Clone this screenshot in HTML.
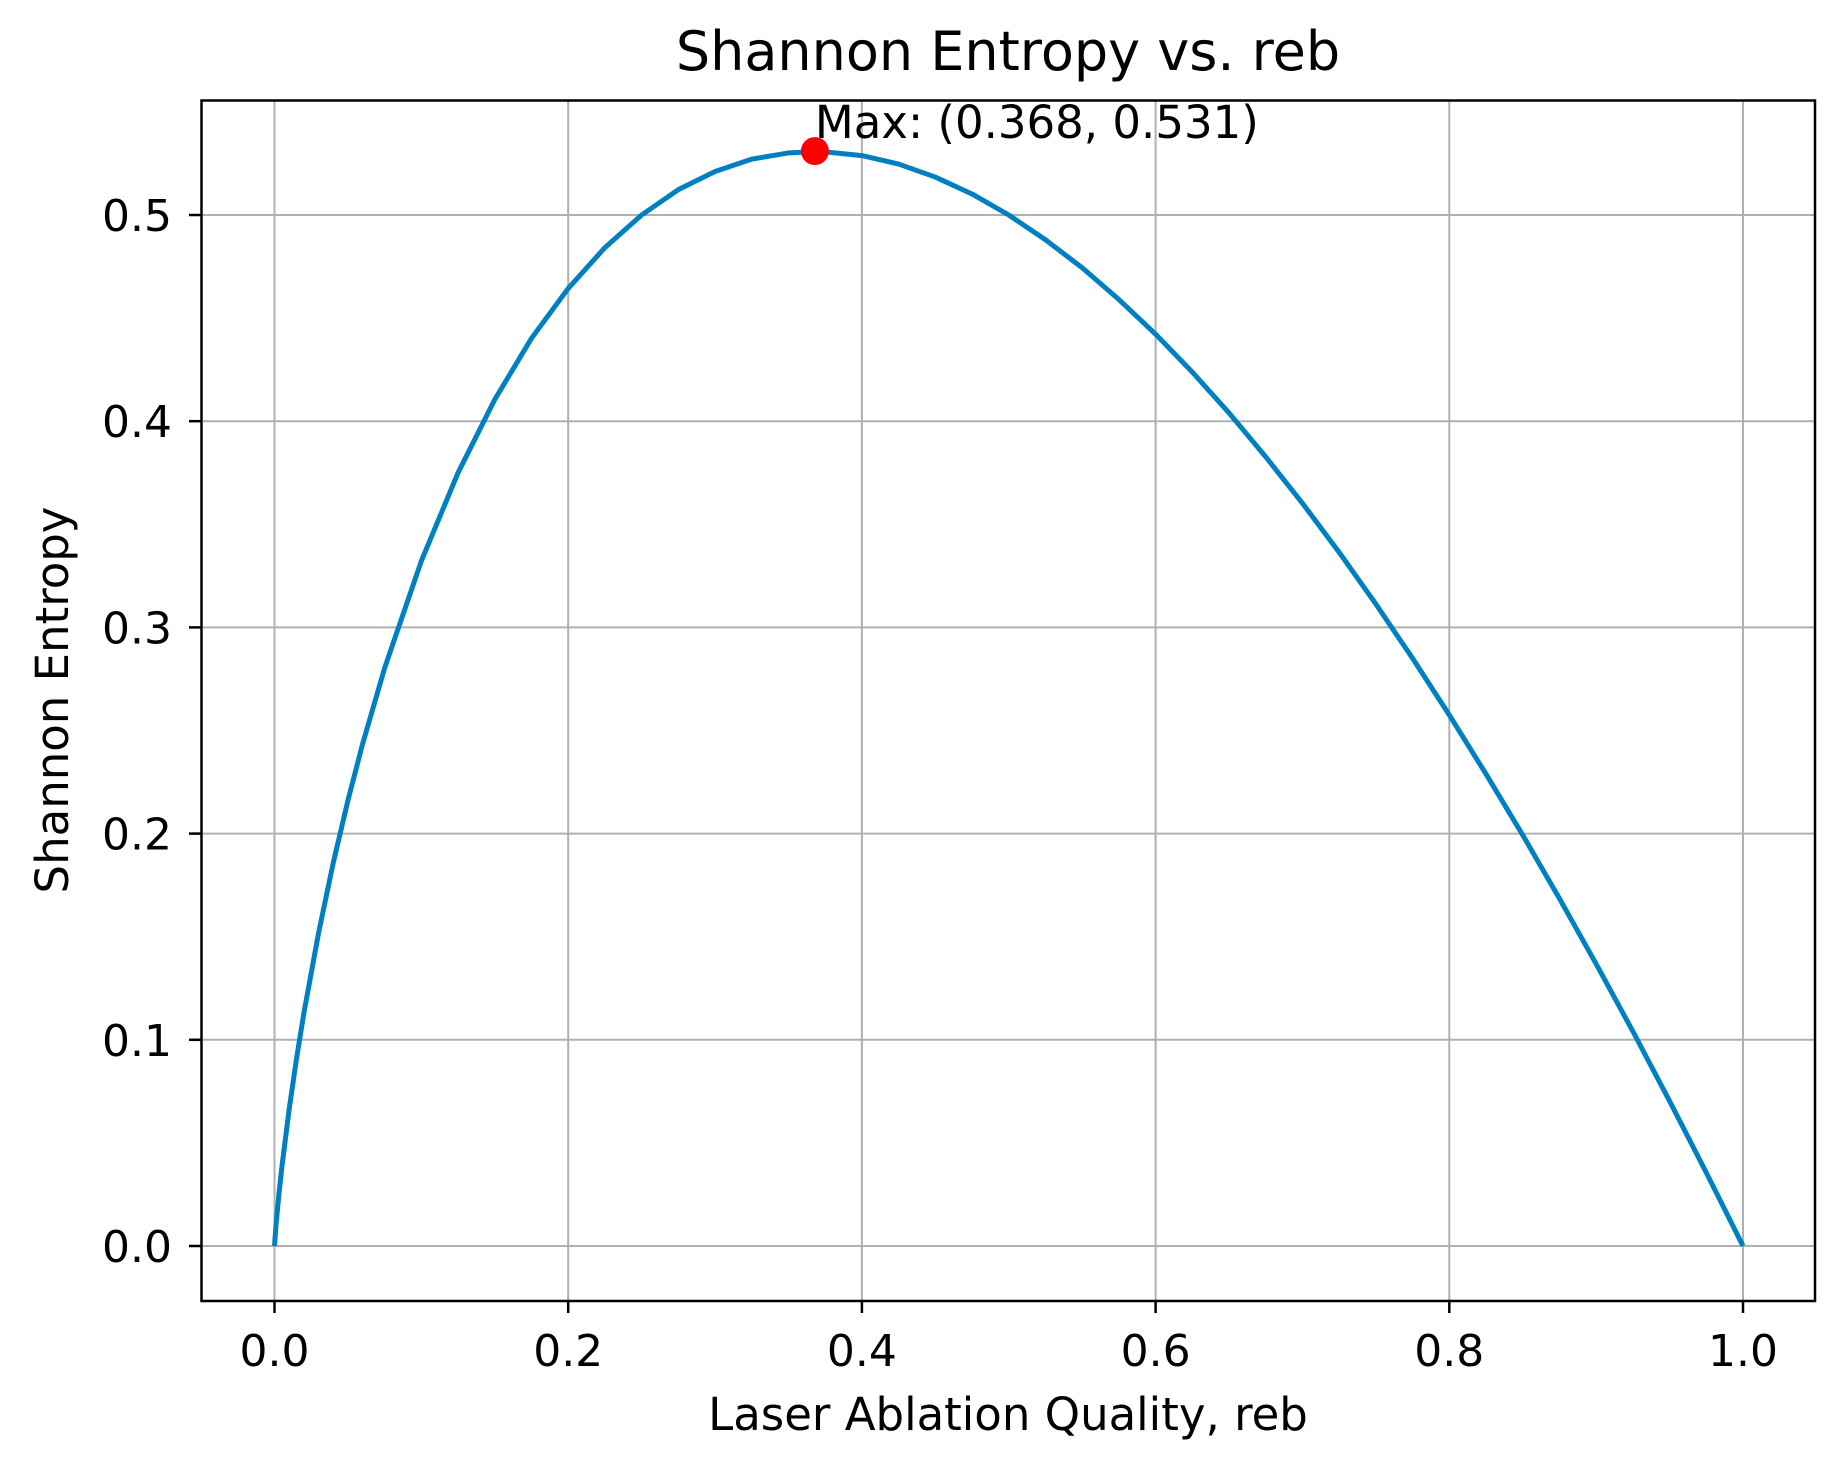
<!DOCTYPE html>
<html><head><meta charset="utf-8"><style>
html,body{margin:0;padding:0;background:#fff;}
svg{display:block;font-family:"DejaVu Sans","Liberation Sans",sans-serif;}
</style></head><body>
<svg id="chart" width="1846" height="1466" viewBox="0 0 1846 1466">
<text x="1008" y="70" font-size="54" text-anchor="middle" fill="#000">Shannon Entropy vs. reb</text>
<text x="1008" y="1430" font-size="45" text-anchor="middle" fill="#000">Laser Ablation Quality, reb</text>
<text x="0" y="0" font-size="45" text-anchor="middle" fill="#000" transform="translate(68,700) rotate(-90)">Shannon Entropy</text>
<g id="grid"></g><g id="ticks"></g><g id="series"></g>
<rect x="201.5" y="100.5" width="1613.5" height="1200.5" fill="none" stroke="#000" stroke-width="2.5"/>
</svg>
<script>
const xTicks=[0,0.2,0.4,0.6,0.8,1.0];
const xTickLabels=["0.0","0.2","0.4","0.6","0.8","1.0"];
const yTicks=[0,0.1,0.2,0.3,0.4,0.5];
const yTickLabels=["0.0","0.1","0.2","0.3","0.4","0.5"];
const xValues=[0,0.001,0.003,0.005,0.01,0.015,0.02,0.03,0.04,0.05,0.06,0.075,0.1,0.125,0.15,0.175,0.2,0.225,0.25,0.275,0.3,0.325,0.35,0.368,0.375,0.4,0.425,0.45,0.475,0.5,0.525,0.55,0.575,0.6,0.625,0.65,0.675,0.7,0.725,0.75,0.775,0.8,0.825,0.85,0.875,0.9,0.925,0.95,0.975,1.0];
const yValues=[0,0.00997,0.0251,0.0382,0.0664,0.0909,0.1129,0.1518,0.1858,0.2161,0.2435,0.2803,0.3322,0.3750,0.4105,0.4402,0.4644,0.4842,0.5,0.5123,0.5211,0.5271,0.5301,0.5307,0.5306,0.5288,0.5247,0.5184,0.5102,0.5,0.4880,0.4744,0.4590,0.4422,0.4238,0.4040,0.3827,0.3602,0.3364,0.3113,0.2850,0.2575,0.2289,0.1993,0.1685,0.1368,0.1041,0.0703,0.0356,0];
const maxPoint=[0.368,0.531];
const maxLabel="Max: (0.368, 0.531)";
const NS="http://www.w3.org/2000/svg";
const X0=274.5,X1=1743,Y0=1246,Y05=215;
const xs=v=>X0+(X1-X0)*v;
const ys=v=>Y0+(Y05-Y0)*(v/0.5);
function mk(tag,attrs,parent){const e=document.createElementNS(NS,tag);for(const k in attrs)e.setAttribute(k,attrs[k]);parent.appendChild(e);return e;}
const grid=document.getElementById('grid'),ticks=document.getElementById('ticks'),series=document.getElementById('series');
xTicks.forEach((t,i)=>{
 const g=mk('line',{x1:xs(t),x2:xs(t),y1:100,y2:1301,stroke:'#b0b0b0','stroke-width':2},grid);
 
 
 const tk=mk('line',{x1:xs(t),x2:xs(t),y1:1301,y2:1313,stroke:'#000','stroke-width':2.5},ticks);
 
 
 const tl=mk('text',{x:xs(t),y:1366,'font-size':44,'text-anchor':'middle',fill:'#000'},ticks);
 tl.textContent=xTickLabels[i];
 
 
});
yTicks.forEach((t,i)=>{
 const g=mk('line',{x1:201.5,x2:1815,y1:ys(t),y2:ys(t),stroke:'#b0b0b0','stroke-width':2},grid);
 
 
 const tk=mk('line',{x1:189,x2:201.5,y1:ys(t),y2:ys(t),stroke:'#000','stroke-width':2.5},ticks);
 
 
 const tl=mk('text',{x:172,y:ys(t)+16,'font-size':44,'text-anchor':'end',fill:'#000'},ticks);
 tl.textContent=yTickLabels[i];
 
 
});
const pts=xValues.map((x,i)=>[xs(x),ys(yValues[i])]);
const line=mk('polyline',{points:pts.map(p=>p.join(',')).join(' '),fill:'none',stroke:'#0080c0','stroke-width':5,'stroke-linejoin':'round'},series);


const dot=mk('circle',{cx:xs(maxPoint[0]),cy:ys(maxPoint[1]),r:14,fill:'#ff0000'},series);


const lab=mk('text',{x:xs(maxPoint[0]),y:ys(maxPoint[1])-13,'font-size':45,fill:'#000'},series);
lab.textContent=maxLabel;


</script>
</body></html>
